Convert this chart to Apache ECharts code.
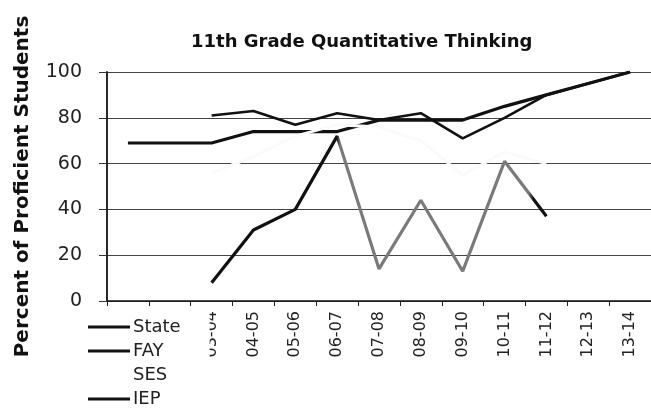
<!DOCTYPE html>
<html>
<head>
<meta charset="utf-8">
<script src="https://cdn.jsdelivr.net/npm/echarts@6/dist/echarts.min.js"></script>
<style>
  html, body { margin: 0; padding: 0; background: #fff; }
  #chart { width: 651px; height: 409px; }
</style>
</head>
<body>
<div id="chart"></div>
<script>
// school years on the x axis
const years = ['01-02', '02-03', '03-04', '04-05', '05-06', '06-07', '07-08',
               '08-09', '09-10', '10-11', '11-12', '12-13', '13-14'];

// percent proficient
const stateVals = [69, 69, 69, 74, 74, 74, 79, 79, 79, 85, 90, 95, 100];
const fayVals   = [null, null, 81, 83, 77, 82, 79, 82, 71, 80, 90, 95, 100];
const sesVals   = [null, null, 56, 63, 72, 77, 76, 70, 55, 65, 60, null, null];
const iepVals   = [null, null, 8, 31, 40, 72, 14, 44, 13, 61, 37, null, null];

const yTicks = [0, 20, 40, 60, 80, 100];

function initChart() {
    const dom = document.getElementById('chart');
    const chart = echarts.init(dom, null, { renderer: 'canvas' });

    const font = 'DejaVu Sans, Verdana, sans-serif';

    // IEP line is black, then grey in the middle of the scan, black again at the end
    const iepLine = {
        type: 'linear', x: 0, y: 0, x2: 1, y2: 0,
        colorStops: [
            { offset: 0, color: '#111' },
            { offset: 0.376, color: '#111' },
            { offset: 0.385, color: '#7a7a7a' },
            { offset: 0.94, color: '#7a7a7a' },
            { offset: 0.955, color: '#111' },
            { offset: 1, color: '#111' }
        ]
    };

    const option = {
        animation: false,
        backgroundColor: '#fff',
        title: {
            text: '11th Grade Quantitative Thinking',
            left: 186,
            top: 28,
            textStyle: { fontFamily: font, fontSize: 18, fontWeight: 'bold', color: '#111' }
        },
        legend: {
            orient: 'vertical',
            left: 84,
            top: 308,
            height: 110,
            icon: 'rect',
            itemWidth: 42,
            itemHeight: 3,
            itemGap: 6,
            padding: [10, 29, 0, 4],
            backgroundColor: '#fff',
            textStyle: { fontFamily: font, fontSize: 18, color: '#222', padding: [0, 0, 0, -2] },
            data: ['State', 'FAY', 'SES', 'IEP']
        },
        grid: {
            left: 107,
            top: 72,
            width: 550,
            height: 229
        },
        xAxis: {
            type: 'category',
            data: years,
            boundaryGap: true,
            axisLine: { lineStyle: { color: '#111', width: 1.5 } },
            axisTick: { show: true, length: 5, lineStyle: { color: '#222' } },
            axisLabel: {
                rotate: 90,
                margin: 10,
                fontFamily: font,
                fontSize: 16,
                color: '#222',
                interval: 0
            }
        },
        yAxis: {
            type: 'value',
            min: yTicks[0],
            max: yTicks[yTicks.length - 1],
            interval: 20,
            name: 'Percent of Proficient Students',
            nameLocation: 'middle',
            nameGap: 74,
            nameTextStyle: { fontFamily: font, fontSize: 20, fontWeight: 'bold', color: '#111' },
            axisLine: { show: true, lineStyle: { color: '#111', width: 1.8 } },
            axisTick: { show: true, length: 8, lineStyle: { color: '#333' } },
            axisLabel: { margin: 25, fontFamily: font, fontSize: 19, color: '#222' },
            splitLine: { lineStyle: { color: '#444', width: 1 } }
        },
        series: [
            {
                name: 'State', type: 'line', data: stateVals,
                showSymbol: false,
                lineStyle: { color: '#111', width: 3.2 },
                itemStyle: { color: '#111' }
            },
            {
                name: 'FAY', type: 'line', data: fayVals,
                showSymbol: false,
                lineStyle: { color: '#111', width: 2.6 },
                itemStyle: { color: '#111' }
            },
            {
                name: 'SES', type: 'line', data: sesVals,
                showSymbol: false,
                lineStyle: { color: '#fafafa', width: 3 },
                itemStyle: { color: '#fff' }
            },
            {
                name: 'IEP', type: 'line', data: iepVals,
                showSymbol: false,
                lineStyle: { color: iepLine, width: 3.2 },
                itemStyle: { color: '#111' }
            }
        ]
    };

    chart.setOption(option);
    window.addEventListener('resize', chart.resize);
}

document.addEventListener('DOMContentLoaded', initChart);
</script>
</body>
</html>
